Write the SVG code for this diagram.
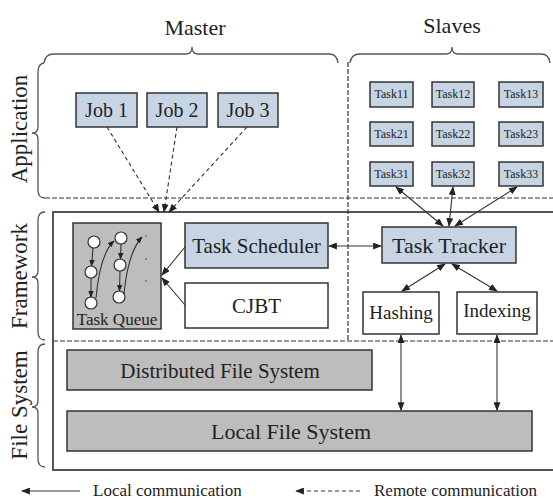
<svg xmlns="http://www.w3.org/2000/svg" width="553" height="503" viewBox="0 0 553 503" font-family="'Liberation Serif', 'DejaVu Serif', 'Times New Roman', serif">
<defs>
<marker id="ah" viewBox="0 0 10 8" refX="9" refY="4" markerWidth="9" markerHeight="7" markerUnits="userSpaceOnUse" orient="auto-start-reverse">
<path d="M0,0 L10,4 L0,8 z" fill="#222"/>
</marker>
<marker id="ahs" viewBox="0 0 10 8" refX="9" refY="4" markerWidth="7" markerHeight="6" markerUnits="userSpaceOnUse" orient="auto-start-reverse">
<path d="M0,0 L10,4 L0,8 z" fill="#222"/>
</marker>
</defs>
<style>
text{font-family:'Liberation Serif','DejaVu Serif','Times New Roman',serif;fill:#222}
.blue{fill:#c7d4e4;stroke:#333;stroke-width:1.5}
.gray{fill:#bdbdbd;stroke:#333;stroke-width:1.5}
.white{fill:#fff;stroke:#333;stroke-width:1.5}
.brace{fill:none;stroke:#555;stroke-width:1.3}
.dash{fill:none;stroke:#333;stroke-width:1.2;stroke-dasharray:5 2}
.conn{fill:none;stroke:#333;stroke-width:1.1}
.rdash{fill:none;stroke:#333;stroke-width:1.1;stroke-dasharray:4 3}
.t20{font-size:20px;text-anchor:middle}
.t12{font-size:12px;text-anchor:middle}
.circ{fill:#fff;stroke:#333;stroke-width:1.2}
</style>
<rect width="553" height="503" fill="#fff"/>

<g id="layers">
<text x="195" y="35" font-size="22" text-anchor="middle">Master</text>
<text x="452" y="33" font-size="22" text-anchor="middle">Slaves</text>
<path class="brace" d="M44,63 Q45,54 54,54 L186,54 Q192,54 192,47 Q192,54 198,54 L329,54 Q337,54 338,63"/>
<path class="brace" d="M350,63 Q351,54 360,54 L446,54 Q452,54 452,47 Q452,54 458,54 L541,54 Q549,54 550,63"/>
<path class="brace" d="M44,63 Q38,64 38,72 L38,127 Q38,133 32,133 Q38,133 38,139 L38,190 Q38,198 45,198"/>
<path class="brace" d="M45,212 Q38,212 38,220 L38,271 Q38,277 32,277 Q38,277 38,283 L38,332 Q38,340 45,340"/>
<path class="brace" d="M45,344 Q38,344 38,352 L38,401 Q38,407 32,407 Q38,407 38,413 L38,459 Q38,467 45,467"/>
<text transform="translate(27,129) rotate(-90)" font-size="23" text-anchor="middle">Application</text>
<text transform="translate(27,276) rotate(-90)" font-size="23" text-anchor="middle">Framework</text>
<text transform="translate(27,405) rotate(-90)" font-size="23" text-anchor="middle">File System</text>
<path d="M553,212 H53 V470 H553" fill="none" stroke="#555" stroke-width="2"/>
<line class="dash" x1="45" y1="198" x2="553" y2="198"/>
<line class="dash" x1="53" y1="341" x2="553" y2="341"/>
<line class="dash" x1="348" y1="62" x2="348" y2="341"/>
</g>

<g id="job1"><rect class="blue" x="76" y="93" width="61" height="34"/><text class="t20" x="106.5" y="117">Job 1</text></g>
<g id="job2"><rect class="blue" x="147" y="93" width="60" height="34"/><text class="t20" x="177" y="117">Job 2</text></g>
<g id="job3"><rect class="blue" x="218" y="93" width="60" height="34"/><text class="t20" x="248" y="117">Job 3</text></g>

<g id="task11"><rect class="blue" x="370" y="82" width="43" height="25"/><text class="t12" x="391.5" y="98">Task11</text></g>
<g id="task12"><rect class="blue" x="432" y="82" width="42" height="25"/><text class="t12" x="453" y="98">Task12</text></g>
<g id="task13"><rect class="blue" x="499" y="82" width="44" height="25"/><text class="t12" x="521" y="98">Task13</text></g>
<g id="task21"><rect class="blue" x="370" y="122" width="43" height="24"/><text class="t12" x="391.5" y="138">Task21</text></g>
<g id="task22"><rect class="blue" x="432" y="122" width="42" height="24"/><text class="t12" x="453" y="138">Task22</text></g>
<g id="task23"><rect class="blue" x="499" y="122" width="44" height="24"/><text class="t12" x="521" y="138">Task23</text></g>
<g id="task31"><rect class="blue" x="370" y="162" width="43" height="24"/><text class="t12" x="391.5" y="178">Task31</text></g>
<g id="task32"><rect class="blue" x="432" y="162" width="42" height="24"/><text class="t12" x="453" y="178">Task32</text></g>
<g id="task33"><rect class="blue" x="499" y="162" width="44" height="24"/><text class="t12" x="521" y="178">Task33</text></g>

<g id="taskqueue">
<rect class="gray" x="73" y="223" width="88" height="106"/>
<circle class="circ" cx="94" cy="242" r="6"/>
<circle class="circ" cx="91" cy="272" r="6"/>
<circle class="circ" cx="91" cy="303" r="6"/>
<circle class="circ" cx="121" cy="238" r="6"/>
<circle class="circ" cx="120" cy="265" r="6"/>
<circle class="circ" cx="119" cy="297" r="6"/>
<path class="conn" marker-end="url(#ahs)" d="M93,248 L91.5,266"/>
<path class="conn" marker-end="url(#ahs)" d="M91,278 L91,297"/>
<path class="conn" marker-end="url(#ahs)" d="M121,244 L120.5,259"/>
<path class="conn" marker-end="url(#ahs)" d="M120,271 L119.5,291"/>
<path class="conn" marker-end="url(#ahs)" d="M96,298 Q100,254 114,241"/>
<path class="conn" marker-end="url(#ahs)" d="M124,294 Q128,252 142,237"/>
<circle cx="146" cy="236" r="1" fill="#777"/>
<circle cx="146" cy="259" r="1" fill="#777"/>
<circle cx="146" cy="281" r="1" fill="#777"/>
<text x="117" y="325" font-size="17" text-anchor="middle">Task Queue</text>
</g>

<g id="taskscheduler"><rect class="blue" x="185" y="223" width="143" height="45"/><text x="256.5" y="253" font-size="21" text-anchor="middle">Task Scheduler</text></g>
<g id="cjbt"><rect class="white" x="185" y="283" width="143" height="45"/><text x="256.5" y="313" font-size="21" text-anchor="middle">CJBT</text></g>
<g id="tasktracker"><rect class="blue" x="382" y="227" width="134" height="36"/><text x="449" y="253" font-size="22" text-anchor="middle">Task Tracker</text></g>
<g id="hashing"><rect class="white" x="363" y="292" width="76" height="42"/><text x="401" y="319" font-size="19" text-anchor="middle">Hashing</text></g>
<g id="indexing"><rect class="white" x="457" y="292" width="80" height="42"/><text x="497" y="317" font-size="19" text-anchor="middle">Indexing</text></g>
<g id="dfs"><rect class="gray" x="67" y="350" width="305" height="40"/><text x="220" y="378" font-size="21" text-anchor="middle">Distributed File System</text></g>
<g id="lfs"><rect class="gray" x="67" y="411" width="465" height="40"/><text x="291" y="439" font-size="22" text-anchor="middle">Local File System</text></g>

<g id="connectors">
<path class="rdash" marker-end="url(#ah)" d="M107,127 L159,212"/>
<path class="rdash" marker-end="url(#ah)" d="M177,127 L164,212"/>
<path class="rdash" marker-end="url(#ah)" d="M247,127 L169,212"/>
<path class="conn" marker-end="url(#ah)" d="M185,247 L162,275"/>
<path class="conn" marker-end="url(#ah)" d="M185,305 L162,278"/>
<path class="conn" marker-start="url(#ah)" marker-end="url(#ah)" d="M329,246 L381,246"/>
<path class="conn" marker-start="url(#ah)" marker-end="url(#ah)" d="M396,187 L443,226"/>
<path class="conn" marker-start="url(#ah)" marker-end="url(#ah)" d="M453,187 L449,226"/>
<path class="conn" marker-start="url(#ah)" marker-end="url(#ah)" d="M517,187 L455,226"/>
<path class="conn" marker-start="url(#ah)" marker-end="url(#ah)" d="M445,264 L402,291"/>
<path class="conn" marker-start="url(#ah)" marker-end="url(#ah)" d="M452,264 L497,291"/>
<path class="conn" marker-start="url(#ah)" marker-end="url(#ah)" d="M401,335 L401,410"/>
<path class="conn" marker-start="url(#ah)" marker-end="url(#ah)" d="M497,335 L497,410"/>
</g>

<g id="legend">
<path class="conn" marker-end="url(#ah)" d="M80,491 L22,491"/>
<text x="93" y="496" font-size="17">Local communication</text>
<path class="rdash" marker-end="url(#ah)" d="M360,491 L296,491"/>
<text x="374" y="496" font-size="17">Remote communication</text>
</g>
</svg>
